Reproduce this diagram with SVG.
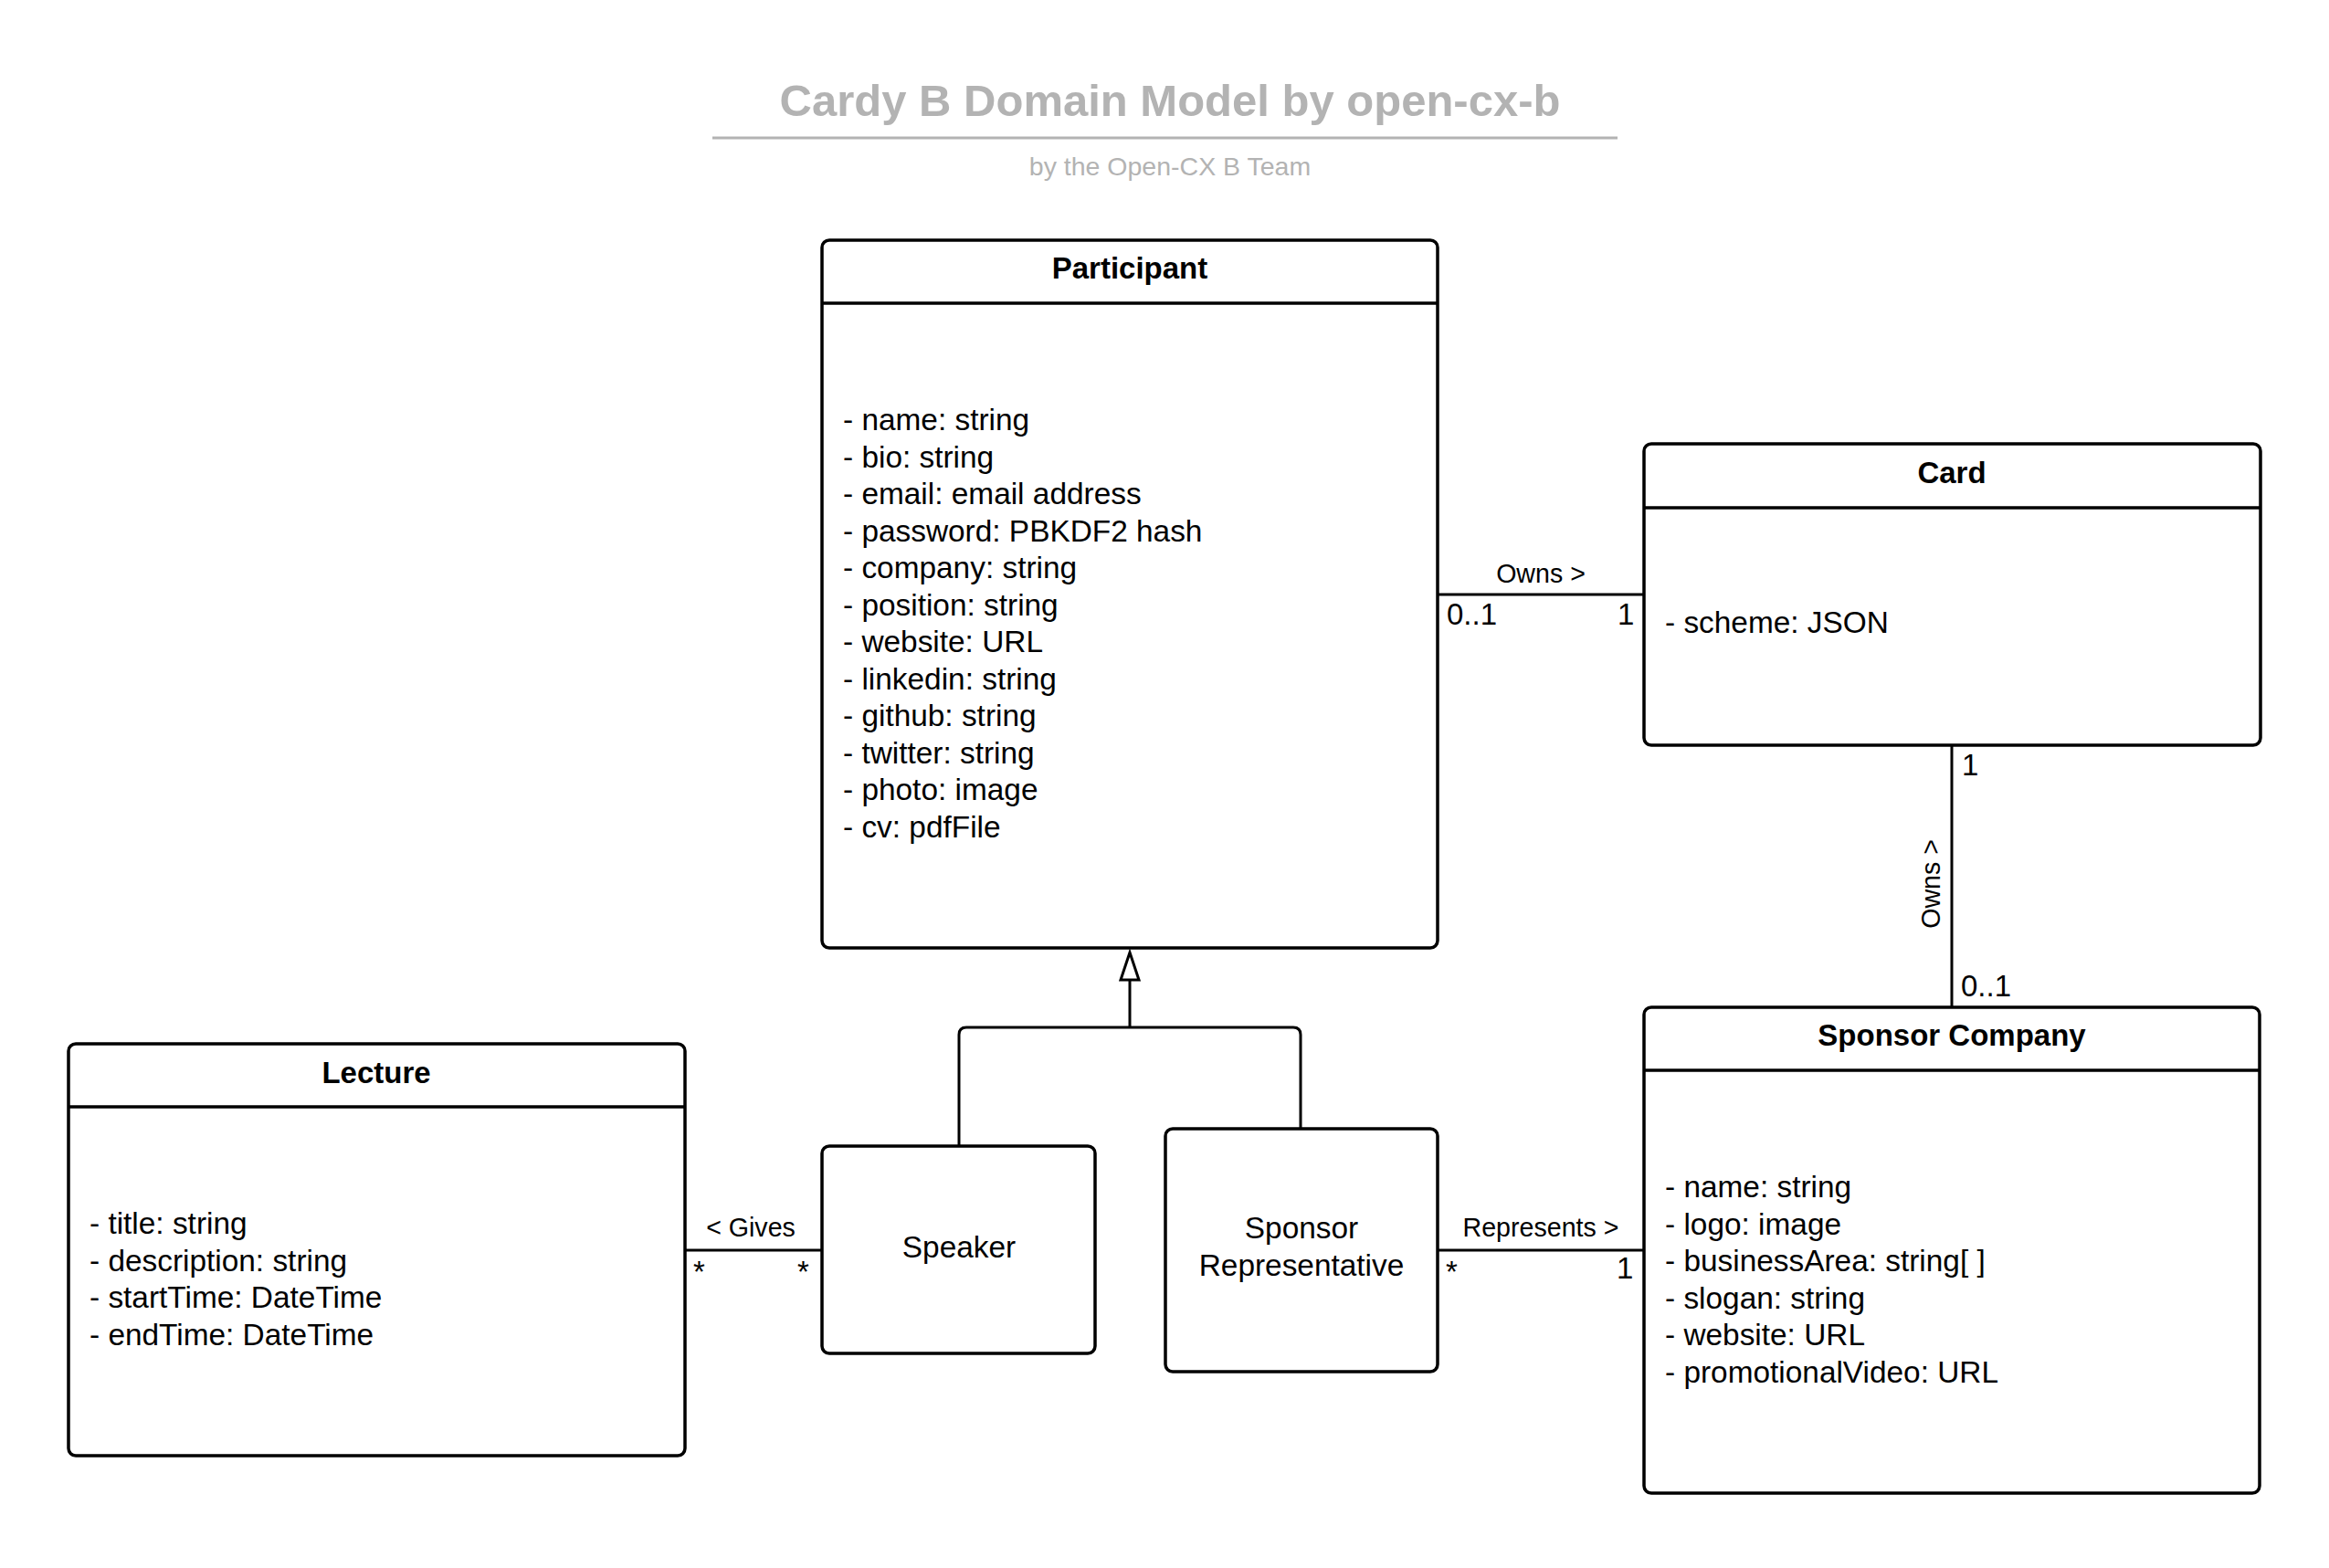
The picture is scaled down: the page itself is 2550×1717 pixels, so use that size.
<svg xmlns="http://www.w3.org/2000/svg" width="2550" height="1717" viewBox="0 0 2550 1717">
<style>
text{font-family:"Liberation Sans",Arial,Helvetica,sans-serif;fill:#000}
.box{fill:#fff;stroke:#000;stroke-width:3.5}
.hl{stroke:#000;stroke-width:3.5;fill:none}
.ttl{font-size:33px;font-weight:bold;text-anchor:middle}
.att{font-size:33.4px}
.mid{font-size:33.4px;text-anchor:middle}
.lbl{font-size:28.6px;text-anchor:middle}
.mul{font-size:33px}
.con{stroke:#000;stroke-width:3;fill:none}
.gen{stroke:#000;stroke-width:3;fill:none}
</style>
<rect width="2550" height="1717" fill="#fff"/>
<g id="title">
<text x="1281" y="127" font-size="49" font-weight="bold" text-anchor="middle" style="fill:#b3b3b3">Cardy B Domain Model by open-cx-b</text>
<line x1="780" y1="151" x2="1771" y2="151" stroke="#b3b3b3" stroke-width="3"/>
<text x="1281" y="192" font-size="28.5" text-anchor="middle" style="fill:#b3b3b3">by the Open-CX B Team</text>
</g>
<g id="connectors">
<path class="con" d="M1574,651 H1800"/>
<path class="con" d="M2137,816 V1103"/>
<path class="con" d="M750,1369 H900"/>
<path class="con" d="M1574,1369 H1800"/>
<path class="gen" d="M1050,1255 V1133 Q1050,1125 1058,1125 H1416 Q1424,1125 1424,1133 V1236"/>
<path class="gen" d="M1237,1125 V1073"/>
<path d="M1237,1043 L1247,1073 L1227,1073 Z" fill="#fff" stroke="#000" stroke-width="3" stroke-linejoin="miter"/>
<text class="lbl" x="1687" y="638">Owns &gt;</text>
<text class="mul" x="1584" y="684">0..1</text>
<text class="mul" x="1771" y="684">1</text>
<text class="lbl" transform="translate(2124,968) rotate(-90)">Owns &gt;</text>
<text class="mul" x="2148" y="849">1</text>
<text class="mul" x="2147" y="1091">0..1</text>
<text class="lbl" x="822" y="1354">&lt; Gives</text>
<text class="mul" x="759" y="1404">*</text>
<text class="mul" x="873" y="1404">*</text>
<text class="lbl" x="1687" y="1354">Represents &gt;</text>
<text class="mul" x="1583" y="1404">*</text>
<text class="mul" x="1770" y="1400">1</text>
</g>
<g id="participant">
<rect class="box" x="900" y="263" width="674" height="775" rx="8"/>
<line class="hl" x1="900" y1="332" x2="1574" y2="332"/>
<text class="ttl" x="1237" y="305">Participant</text>
<text class="att" x="923" y="471">- name: string</text>
<text class="att" x="923" y="511.5">- bio: string</text>
<text class="att" x="923" y="552">- email: email address</text>
<text class="att" x="923" y="592.5">- password: PBKDF2 hash</text>
<text class="att" x="923" y="633">- company: string</text>
<text class="att" x="923" y="673.5">- position: string</text>
<text class="att" x="923" y="714">- website: URL</text>
<text class="att" x="923" y="754.5">- linkedin: string</text>
<text class="att" x="923" y="795">- github: string</text>
<text class="att" x="923" y="835.5">- twitter: string</text>
<text class="att" x="923" y="876">- photo: image</text>
<text class="att" x="923" y="916.5">- cv: pdfFile</text>
</g>
<g id="card">
<rect class="box" x="1800" y="486" width="675" height="330" rx="8"/>
<line class="hl" x1="1800" y1="556" x2="2475" y2="556"/>
<text class="ttl" x="2137" y="529">Card</text>
<text class="att" x="1823" y="693">- scheme: JSON</text>
</g>
<g id="sponsor-company">
<rect class="box" x="1800" y="1103" width="674" height="532" rx="8"/>
<line class="hl" x1="1800" y1="1172" x2="2474" y2="1172"/>
<text class="ttl" x="2137" y="1145">Sponsor Company</text>
<text class="att" x="1823" y="1311">- name: string</text>
<text class="att" x="1823" y="1351.5">- logo: image</text>
<text class="att" x="1823" y="1392">- businessArea: string[ ]</text>
<text class="att" x="1823" y="1432.5">- slogan: string</text>
<text class="att" x="1823" y="1473">- website: URL</text>
<text class="att" x="1823" y="1513.5">- promotionalVideo: URL</text>
</g>
<g id="lecture">
<rect class="box" x="75" y="1143" width="675" height="451" rx="8"/>
<line class="hl" x1="75" y1="1212" x2="750" y2="1212"/>
<text class="ttl" x="412" y="1186">Lecture</text>
<text class="att" x="98" y="1351">- title: string</text>
<text class="att" x="98" y="1391.5">- description: string</text>
<text class="att" x="98" y="1432">- startTime: DateTime</text>
<text class="att" x="98" y="1472.5">- endTime: DateTime</text>
</g>
<g id="speaker">
<rect class="box" x="900" y="1255" width="299" height="227" rx="8"/>
<text class="mid" x="1050" y="1377">Speaker</text>
</g>
<g id="sponsor-representative">
<rect class="box" x="1276" y="1236" width="298" height="266" rx="8"/>
<text class="mid" x="1425" y="1356">Sponsor</text>
<text class="mid" x="1425" y="1396.5">Representative</text>
</g>
</svg>
